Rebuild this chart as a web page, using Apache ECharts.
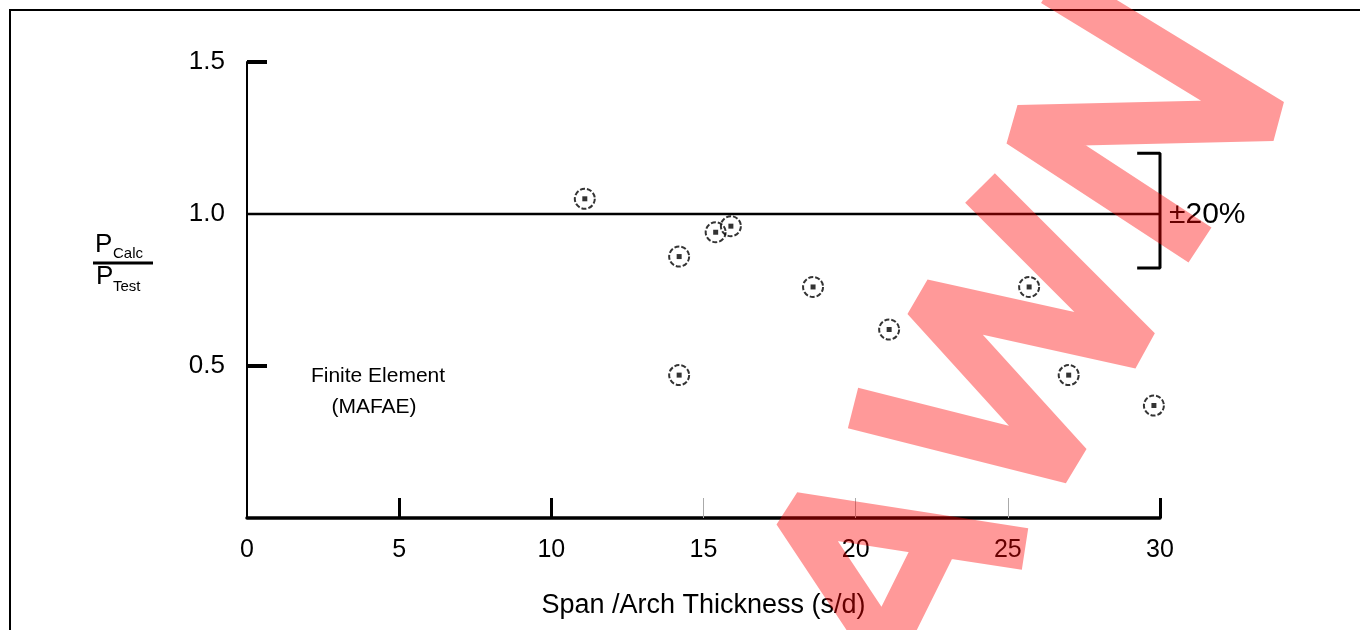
<!DOCTYPE html>
<html>
<head>
<meta charset="utf-8">
<title>P calc / P test vs span / arch thickness</title>
<script src="https://cdn.jsdelivr.net/npm/echarts@6/dist/echarts.min.js"></script>
<style>
  html, body { margin: 0; padding: 0; background: #fff; }
  #chart { width: 1360px; height: 630px; }
</style>
</head>
<body>
<div id="chart"></div>
<script>
// span / arch thickness (s/d) and P calc / P test
const spanRatio = [11.1, 14.2, 15.4, 15.9, 18.6, 21.1, 25.7, 14.2, 27.0, 29.8]
const loadRatio = [1.05, 0.86, 0.94, 0.96, 0.76, 0.62, 0.76, 0.47, 0.47, 0.37]

const xTicksBold = [5, 10, 30]
const xTicksThin = [15, 20, 25]
const yTickValues = [0.5, 1.5]
const yLabelValues = [0.5, 1.0, 1.5]

// reference line at 1.0 and the +-20% bracket
const refLine = [[0, 1.0], [30, 1.0]]
const bracket = [[29.25, 1.2], [30, 1.2], [30, 0.822], [29.25, 0.822]]

const font = 'Liberation Sans, Arial, sans-serif'
const points = spanRatio.map((x, i) => [x, loadRatio[i]])

// watermark strokes (page pixels), each one stroked once
const wmStyle = {
  fill: 'none',
  stroke: 'rgba(255,0,0,0.4)',
  lineWidth: 42,
  lineJoin: 'bevel',
  lineCap: 'butt'
}
const watermark = [
  [[1052, -15], [1273, 120], [1018, 126], [1200, 245]],
  [[980, 188], [1140, 348], [923, 300], [1071, 463], [853, 408]],
  [[895, 665], [794, 513], [1025, 549], [940, 536], [876, 665]]
].map(pts => ({ type: 'polyline', z: 100, silent: true, shape: { points: pts }, style: wmStyle }))

const chart = echarts.init(document.getElementById('chart'))

const option = {
  animation: false,
  backgroundColor: '#fff',
  grid: { left: 247, right: 200, top: 62, bottom: 112 },
  xAxis: [
    {
      type: 'value',
      position: 'bottom',
      min: 0,
      max: 30,
      interval: 5,
      name: 'Span /Arch Thickness (s/d)',
      nameLocation: 'middle',
      nameGap: 74,
      nameTextStyle: { fontFamily: font, fontSize: 27, color: '#000' },
      axisLine: { lineStyle: { color: '#000', width: 3.5 } },
      axisTick: {
        inside: true,
        length: 20,
        customValues: xTicksBold,
        lineStyle: { color: '#000', width: 3 }
      },
      axisLabel: { fontFamily: font, fontSize: 25, color: '#000', margin: 20 },
      splitLine: { show: false }
    },
    {
      type: 'value',
      position: 'bottom',
      min: 0,
      max: 30,
      interval: 5,
      axisLine: { show: false },
      axisTick: {
        inside: true,
        length: 20,
        customValues: xTicksThin,
        lineStyle: { color: '#aaa', width: 1 }
      },
      axisLabel: { show: false },
      splitLine: { show: false }
    }
  ],
  yAxis: {
    type: 'value',
    min: 0,
    max: 1.5,
    interval: 0.5,
    axisLine: { show: true, lineStyle: { color: '#000', width: 2 } },
    axisTick: {
      show: true,
      inside: true,
      length: 20,
      customValues: yTickValues,
      lineStyle: { color: '#000', width: 4 }
    },
    axisLabel: {
      fontFamily: font,
      fontSize: 26,
      color: '#000',
      margin: 22,
      customValues: yLabelValues,
      formatter: v => v.toFixed(1)
    },
    splitLine: { show: false }
  },
  series: [
    {
      type: 'line',
      data: refLine,
      symbol: 'none',
      clip: false,
      lineStyle: { color: '#000', width: 2.5 },
      silent: true
    },
    {
      type: 'line',
      data: bracket,
      symbol: 'none',
      clip: false,
      lineStyle: { color: '#000', width: 3 },
      silent: true
    },
    {
      type: 'scatter',
      data: points,
      symbol: 'circle',
      symbolSize: 20,
      itemStyle: {
        color: 'rgba(0,0,0,0)',
        borderColor: '#000',
        borderWidth: 2,
        borderType: [5, 2]
      },
      z: 3
    },
    {
      type: 'scatter',
      data: points,
      symbol: 'rect',
      symbolSize: 5,
      itemStyle: { color: '#000' },
      z: 4
    }
  ],
  graphic: [
    // frame
    {
      type: 'rect',
      shape: { x: 10, y: 10, width: 1400, height: 700 },
      style: { fill: 'none', stroke: '#000', lineWidth: 2 },
      silent: true
    },
    // y axis title P_Calc / P_Test
    { type: 'text', x: 95, y: 245, style: { text: 'P', font: '26px ' + font, fill: '#000', verticalAlign: 'middle' } },
    { type: 'text', x: 113, y: 254, style: { text: 'Calc', font: '15px ' + font, fill: '#000', verticalAlign: 'middle' } },
    {
      type: 'line',
      shape: { x1: 93, y1: 263, x2: 153, y2: 263 },
      style: { stroke: '#000', lineWidth: 3 }
    },
    { type: 'text', x: 96, y: 277, style: { text: 'P', font: '26px ' + font, fill: '#000', verticalAlign: 'middle' } },
    { type: 'text', x: 113, y: 287, style: { text: 'Test', font: '15px ' + font, fill: '#000', verticalAlign: 'middle' } },
    // annotations
    { type: 'text', x: 378, y: 376, style: { text: 'Finite Element', font: '21px ' + font, fill: '#000', align: 'center', verticalAlign: 'middle' } },
    { type: 'text', x: 374, y: 407, style: { text: '(MAFAE)', font: '21px ' + font, fill: '#000', align: 'center', verticalAlign: 'middle' } },
    { type: 'text', x: 1169, y: 215, style: { text: '±20%', font: '30px ' + font, fill: '#000', verticalAlign: 'middle' } }
  ].concat(watermark)
}

chart.setOption(option)
</script>
</body>
</html>
